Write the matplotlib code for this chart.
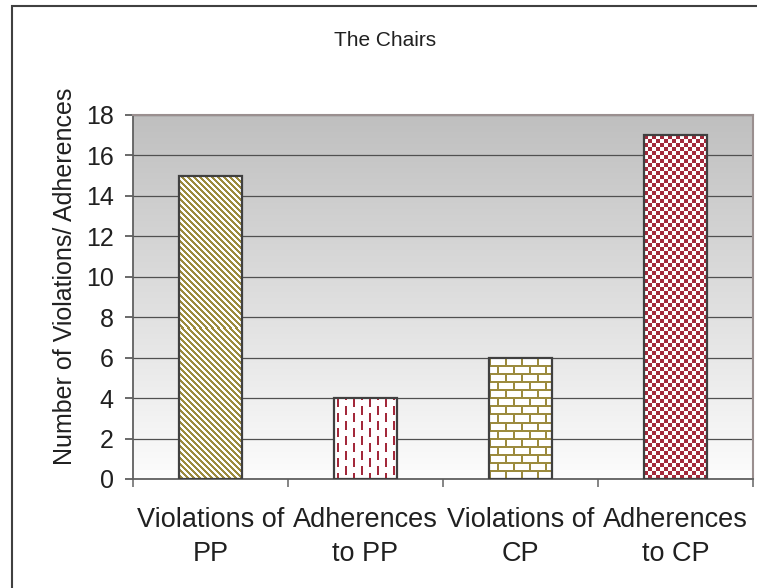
import numpy as np
import matplotlib.pyplot as plt
from matplotlib.patches import Rectangle
from matplotlib.colors import to_rgb

plt.rcParams['font.family'] = ['Liberation Sans', 'DejaVu Sans']

# data
categories = ['Violations of\nPP', 'Adherences\nto PP', 'Violations of\nCP', 'Adherences\nto CP']
counts = [15, 4, 6, 17]
yticks = [0, 2, 4, 6, 8, 10, 12, 14, 16, 18]
patterns = ['stripes', 'dashes', 'bricks', 'checks']
pattern_colors = ['#9c8b3e', '#a3293b', '#9c8b3e', '#a3293b']


def make_pattern(kind, w, h, color):
    yy, xx = np.mgrid[0:h, 0:w]
    if kind == 'stripes':
        mask = ((xx - yy) % 6) < 3
    elif kind == 'dashes':
        c = xx // 8
        mask = ((xx % 8) >= 3) & ((xx % 8) < 5) & (((yy + (c % 2) * 7) % 15) < 9)
    elif kind == 'bricks':
        row = yy // 8
        mask = ((yy % 8) < 2) | (((xx + (row % 2) * 8) % 16) < 2)
    else:
        mask = ((xx // 4) + (yy // 4)) % 2 == 0
    img = np.ones((h, w, 3))
    img[mask] = to_rgb(color)
    return img


fig = plt.figure(figsize=(7.57, 5.88), dpi=100)
ax = fig.add_axes([133 / 757, 1 - 479 / 588, 620 / 757, 364 / 588])

x = np.arange(len(categories))
xlim = (-0.5, len(categories) - 0.5)
ylim = (0, 18)
ax.set_xlim(xlim)
ax.set_ylim(ylim)

# gradient background
grad = np.linspace(0.75, 0.99, 256).reshape(-1, 1)
ax.imshow(np.dstack([grad, grad, grad]), extent=(0, 1, 0, 1), transform=ax.transAxes,
          aspect='auto', origin='upper', zorder=0)

ax.set_yticks(yticks)
ax.yaxis.grid(True, color='#505050', linewidth=0.9, zorder=1)
ax.set_axisbelow(True)

width = 0.41
bars = ax.bar(x, counts, width=width, facecolor='none', edgecolor='#404040',
              linewidth=1.6, zorder=3)
for b, kind, col in zip(bars, patterns, pattern_colors):
    x0, y0 = b.get_x(), b.get_y()
    x1, y1 = x0 + b.get_width(), y0 + b.get_height()
    p0 = ax.transData.transform((x0, y0))
    p1 = ax.transData.transform((x1, y1))
    w = int(round(abs(p1[0] - p0[0])))
    h = int(round(abs(p1[1] - p0[1])))
    ax.imshow(make_pattern(kind, w, h, col), extent=(x0, x1, y0, y1), aspect='auto',
              origin='upper', interpolation='none', zorder=2)

ax.set_xlim(xlim)
ax.set_ylim(ylim)

ax.set_xticks(x)
ax.set_xticklabels(categories, fontsize=19.5, color='#202020', linespacing=1.4)
ax.set_xticks(np.arange(len(categories) + 1) - 0.5, minor=True)
ax.tick_params(axis='x', which='major', length=0, pad=20)
ax.tick_params(axis='x', which='minor', length=6, color='#707070', width=1.2)
ax.tick_params(axis='y', length=6, color='#505050', width=1.2, labelsize=18,
               labelcolor='#202020', pad=8)

for s in ['left', 'bottom']:
    ax.spines[s].set_color('#606060')
    ax.spines[s].set_linewidth(1.3)
for s in ['top', 'right']:
    ax.spines[s].set_color('#9a8f8f')
    ax.spines[s].set_linewidth(1.5)

fig.text(385 / 757, 1 - 40 / 588, 'The Chairs', ha='center', va='center', fontsize=15,
         color='#202020')
fig.text(65 / 757, 1 - 276 / 588, 'Number of Violations/ Adherences', rotation=90,
         ha='center', va='center', fontsize=18, color='#202020')

# chart border
fig.patches.append(Rectangle((12 / 757, -0.1), 1.2, 1.1 - 6 / 588, transform=fig.transFigure,
                             fill=False, edgecolor='#404040', linewidth=1.5))

fig.savefig('out.png', dpi=100)
